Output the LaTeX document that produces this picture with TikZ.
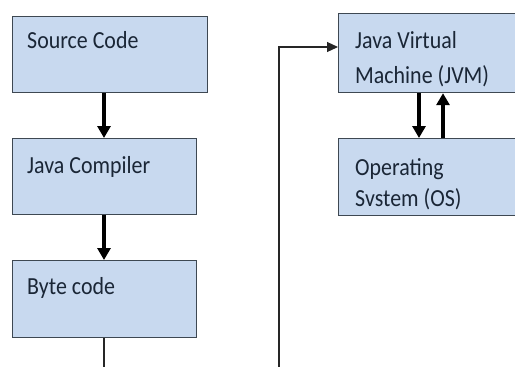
\documentclass[tikz,border=0pt]{standalone}
\usepackage{fontspec}
\setmainfont{Carlito}
\usetikzlibrary{arrows.meta}
\definecolor{boxfill}{HTML}{C8D9EF}
\definecolor{boxline}{HTML}{3E4852}
\definecolor{txt}{HTML}{1A2636}
\newcommand{\tallt}[1]{\scalebox{1}[1.12]{#1}}
\tikzset{
  box/.style={draw=boxline, line width=1.2bp, fill=boxfill},
  lbl/.style={anchor=base west, inner sep=0pt, text=txt, font=\fontsize{22}{22}\selectfont},
  thick arrow/.style={draw=black, line width=3.6bp, -{Triangle[length=12bp,width=13bp]}},
  thin line/.style={draw=black!85, line width=1.2bp},
  thin arrow/.style={draw=black!85, line width=1.2bp, -{Triangle[length=11bp,width=10bp]}}
}
\begin{document}
\begin{tikzpicture}[x=1bp,y=-1bp]
\useasboundingbox (0,0) rectangle (515,366);
\clip (0,0) rectangle (515,366);
% boxes
\node[box, minimum width=195bp, minimum height=76bp, anchor=north west, inner sep=0pt] (src) at (12,16) {};
\node[box, minimum width=184bp, minimum height=76bp, anchor=north west, inner sep=0pt] (comp) at (12,138) {};
\node[box, minimum width=184bp, minimum height=77bp, anchor=north west, inner sep=0pt] (byte) at (12,260) {};
\node[box, minimum width=190bp, minimum height=79bp, anchor=north west, inner sep=0pt] (jvm) at (338,13) {};
\node[box, minimum width=190bp, minimum height=77bp, anchor=north west, inner sep=0pt] (os) at (338,138) {};
% labels
\node[lbl] (t1) at (27,48) {\tallt{Source Code}};
\node[lbl] (t2) at (27,173) {\tallt{Java Compiler}};
\node[lbl] (t3) at (27,294) {\tallt{Byte code}};
\node[lbl] (t4) at (355,48) {\tallt{Java Virtual}};
\node[lbl] (t5) at (355,83) {\tallt{Machine (JVM)}};
\node[lbl] (t6) at (355,175) {\tallt{Operating}};
\node[lbl] (t7) at (355,206) {\tallt{Svstem (OS)}};
% connectors
\draw[thick arrow] (src.south -| 104,0) -- (comp.north -| 104,0);
\draw[thick arrow] (comp.south -| 104,0) -- (byte.north -| 104,0);
\coordinate (b1) at (104,370);
\coordinate (c1) at (279,370);
\coordinate (c2) at (279,47);
\draw[thin line] (byte.south -| 104,0) -- (b1);
\draw[thin arrow] (c1) -- (c2) -- (jvm.west |- c2);
\draw[thick arrow] (jvm.south -| 419,0) -- (os.north -| 419,0);
\draw[thick arrow] (os.north -| 443,0) -- (jvm.south -| 443,0);
\end{tikzpicture}
\end{document}
